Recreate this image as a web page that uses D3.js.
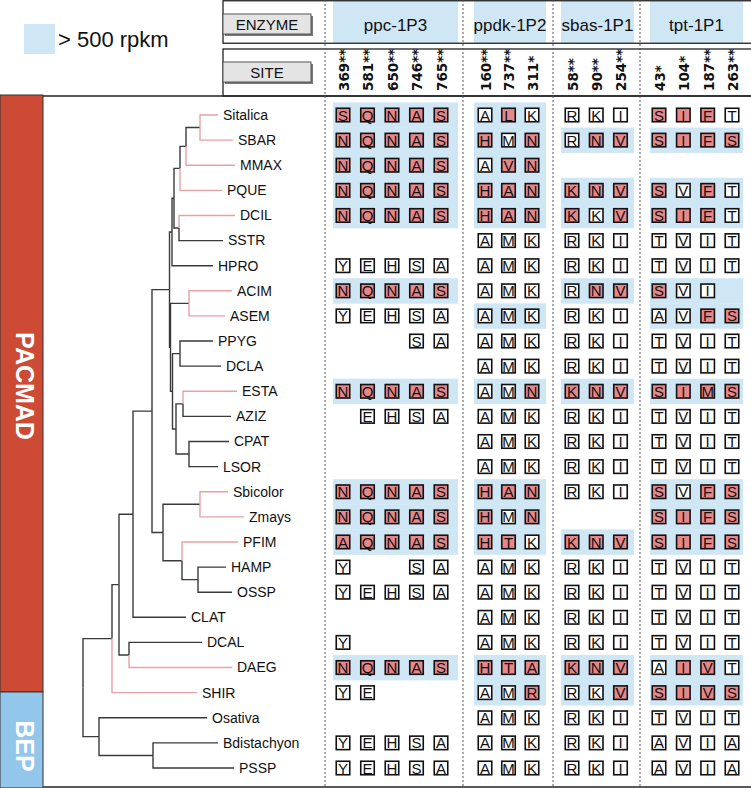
<!DOCTYPE html>
<html><head><meta charset="utf-8">
<script src="https://cdn.jsdelivr.net/npm/d3@7"></script>
<style>body{margin:0;background:#fff}svg{display:block}</style>
</head><body>
<script>
// ---------------- DATA ----------------
const species = ["Sitalica","SBAR","MMAX","PQUE","DCIL","SSTR","HPRO","ACIM","ASEM","PPYG","DCLA","ESTA","AZIZ","CPAT","LSOR","Sbicolor","Zmays","PFIM","HAMP","OSSP","CLAT","DCAL","DAEG","SHIR","Osativa","Bdistachyon","PSSP"];
const c4Branches = ["Sitalica","SBAR","MMAX","PQUE","DCIL","ACIM","ASEM","ESTA","Sbicolor","Zmays","PFIM","DAEG","SHIR"];
// phylogeny (Newick, branch lengths)
const treeNewick = "(((((((((((Sitalica:18,SBAR:33):14,MMAX:49):6,PQUE:42):6,(DCIL:56,SSTR:44):5):2,HPRO:41):2.5,((ACIM:43,ASEM:36):18.5,((PPYG:33,DCLA:41):7.5,((ESTA:54,AZIZ:48):7,(CPAT:40,LSOR:29):13):3.5):2):1):17.5,((Sbicolor:28,Zmays:44):37,(PFIM:56,(HAMP:28,OSSP:34):16):19):11):19,CLAT:53):14,(DCAL:73,DAEG:103):10):7,SHIR:85):29,(Osativa:108,(Bdistachyon:65,PSSP:81):54):16);";
const clades = ["PACMAD","BEP"];
const enzymes = ["ppc-1P3","ppdk-1P2","sbas-1P1","tpt-1P1"];
const ppcSites = ["369**","581**","650**","746**","765**"];
const ppdkSites = ["160**","737**","311*"];
const sbasSites = ["58**","90**","254**"];
const tptSites = ["43*","104*","187**","263**"];
// residues per species (order = species); UPPER = C4-specific (pink), lower = ancestral (white), '-' = missing
const ppcRes = ["SQNAS","NQNAS","NQNAS","NQNAS","NQNAS","-----","yehsa","NQNAS","yehsa","---sa","-----","NQNAS","-ehsa","-----","-----","NQNAS","NQNAS","AQNAS","y--sa","yehsa","-----","y----","NQNAS","ye---","-----","yehsa","yehsa"];
const ppdkRes = ["aLk","HmN","aVN","HAN","HAN","amk","amk","amk","amk","amk","amk","amN","amk","amk","amk","HAN","HmN","HTk","amk","amk","amk","amk","HTA","amR","amk","amk","amk"];
const sbasRes = ["rki","rNV","---","KNV","KkV","rki","rki","rNV","rki","rki","rki","KNV","rki","rki","rki","rki","---","KNV","rki","rki","rki","rki","KNV","rkV","rki","rki","rki"];
const tptRes = ["SIFt","SIFS","----","SvFt","SIFt","tvit","tvit","Svi-","avFS","tvit","tvit","SIMS","tvit","tvit","tvit","SvFS","SIFS","SIFS","tvit","tvit","tvit","tvit","aIVt","SIVS","tvit","avia","avia"];
// expression > 500 rpkm
const ppcHigh = ["Sitalica","SBAR","MMAX","PQUE","DCIL","ACIM","ESTA","Sbicolor","Zmays","PFIM","DAEG"];
const ppdkHigh = ["Sitalica","SBAR","MMAX","PQUE","DCIL","ASEM","ESTA","Sbicolor","Zmays","PFIM","DAEG","SHIR"];
const sbasHigh = ["SBAR","PQUE","DCIL","ACIM","ESTA","PFIM","DAEG","SHIR"];
const tptHigh = ["SBAR","PQUE","DCIL","ACIM","ASEM","ESTA","Sbicolor","Zmays","PFIM","DAEG","SHIR"];
const legendLabel = "> 500 rpkm";

// ---------------- LAYOUT ----------------
const W = 751, H = 788;
const BLUE = "#cfe6f5", PINK = "#e8878a", RED = "#cd4b35", BEPBLUE = "#92c6ea";
const svg = d3.select("body").append("svg").attr("width", W).attr("height", H);

const y = d3.scalePoint().domain(species).range([115, 768]);
const step = y.step();

const enzLayout = [
  {name: enzymes[0], sites: ppcSites, res: ppcRes, high: ppcHigh, band: [333, 458], cols: [343, 441]},
  {name: enzymes[1], sites: ppdkSites, res: ppdkRes, high: ppdkHigh, band: [474, 546], cols: [485, 532]},
  {name: enzymes[2], sites: sbasSites, res: sbasRes, high: sbasHigh, band: [561, 634], cols: [572, 620.5]},
  {name: enzymes[3], sites: tptSites, res: tptRes, high: tptHigh, band: [650, 743], cols: [659, 732]}
];
enzLayout.forEach(e => { e.x = d3.scalePoint().domain(d3.range(e.sites.length)).range(e.cols); });

// ---- legend
svg.append("rect").attr("x", 24).attr("y", 24).attr("width", 31).attr("height", 30).attr("fill", BLUE);
svg.append("text").attr("x", 58).attr("y", 47).attr("font-family", "Liberation Sans, Arial, sans-serif")
  .attr("font-size", 22).attr("fill", "#111").text(legendLabel);

// ---- header boxes
const hdr = svg.append("g");
enzLayout.forEach(e => {
  hdr.append("rect").attr("x", e.band[0]).attr("y", 0).attr("width", e.band[1] - e.band[0]).attr("height", 43).attr("fill", BLUE);
  hdr.append("text").attr("x", (e.band[0] + e.band[1]) / 2).attr("y", 31).attr("text-anchor", "middle")
    .attr("font-family", "Liberation Sans, Arial, sans-serif").attr("font-size", 17).attr("fill", "#111").text(e.name);
});
hdr.append("rect").attr("x", 223).attr("y", 0.75).attr("width", 530).attr("height", 42.5).attr("fill", "none").attr("stroke", "#222").attr("stroke-width", 1.3);
hdr.append("rect").attr("x", 223).attr("y", 49).attr("width", 530).attr("height", 47).attr("fill", "none").attr("stroke", "#222").attr("stroke-width", 1.3);
function button(label, yTop) {
  hdr.append("rect").attr("x", 225).attr("y", yTop + 2).attr("width", 88).attr("height", 20).attr("fill", "#777");
  hdr.append("rect").attr("x", 223).attr("y", yTop).attr("width", 88).attr("height", 20).attr("fill", "#e4e4e4").attr("stroke", "#555").attr("stroke-width", 1);
  hdr.append("text").attr("x", 267).attr("y", yTop + 16).attr("text-anchor", "middle")
    .attr("font-family", "Liberation Sans, Arial, sans-serif").attr("font-size", 15).attr("fill", "#111").text(label);
}
button("ENZYME", 14);
button("SITE", 62);
enzLayout.forEach(e => {
  e.sites.forEach((s, j) => {
    const cx = e.x(j) + 1;
    hdr.append("text").attr("transform", `translate(${cx},91) rotate(-90)`).attr("dy", "0.36em")
      .attr("font-family", "DejaVu Sans, sans-serif").attr("font-weight", "bold").attr("font-size", 13.5)
      .attr("fill", "#111").text(s);
  });
});

// ---- expression bands
const grid = svg.append("g");
enzLayout.forEach(e => {
  e.high.forEach(sp => {
    grid.append("rect").attr("x", e.band[0]).attr("y", y(sp) - step / 2).attr("width", e.band[1] - e.band[0])
      .attr("height", step + 0.3).attr("fill", BLUE);
  });
});

// ---- frame lines & separators
svg.append("line").attr("x1", 43).attr("x2", W).attr("y1", 96).attr("y2", 96).attr("stroke", "#222").attr("stroke-width", 1.5);
svg.append("line").attr("x1", 43).attr("x2", W).attr("y1", 787).attr("y2", 787).attr("stroke", "#222").attr("stroke-width", 1.5);
[325, 463, 553, 640].forEach(x => {
  svg.append("line").attr("x1", x).attr("x2", x).attr("y1", 0).attr("y2", H)
    .attr("stroke", "#555").attr("stroke-width", 1).attr("stroke-dasharray", "2,2");
});

// ---- residue cells
enzLayout.forEach(e => {
  species.forEach((sp, i) => {
    const str = e.res[i];
    [...str].forEach((c, j) => {
      if (c === "-") return;
      const up = c === c.toUpperCase();
      const cx = e.x(j), cy = y(sp);
      grid.append("rect").attr("x", cx - 6.75).attr("y", cy - 6.75).attr("width", 13.5).attr("height", 13.5)
        .attr("fill", up ? PINK : "#fff").attr("stroke", "#111").attr("stroke-width", 1.6);
      grid.append("text").attr("x", cx).attr("y", cy).attr("dy", "0.37em").attr("text-anchor", "middle")
        .attr("font-family", "Liberation Sans, Arial, sans-serif").attr("font-size", 15).attr("fill", "#111")
        .text(c.toUpperCase());
    });
  });
});

// ---- clade bars
svg.append("rect").attr("x", 0).attr("y", 95).attr("width", 43).attr("height", 597).attr("fill", RED).attr("stroke", "#333").attr("stroke-width", 1);
svg.append("rect").attr("x", 0).attr("y", 692).attr("width", 43).attr("height", 96).attr("fill", BEPBLUE).attr("stroke", "#333").attr("stroke-width", 1);
[[clades[0], 386], [clades[1], 746]].forEach(([t, cy]) => {
  svg.append("text").attr("transform", `translate(16,${cy}) rotate(90)`).attr("text-anchor", "middle")
    .attr("font-family", "Liberation Sans, Arial, sans-serif").attr("font-weight", "bold").attr("font-size", 25)
    .attr("fill", "#fff").text(t);
});

// ---- tree
function parseNewick(s) {
  let i = 0;
  function node() {
    const n = {};
    if (s[i] === "(") {
      i++; n.children = [];
      n.children.push(node());
      while (s[i] === ",") { i++; n.children.push(node()); }
      i++;
    }
    let name = "";
    while (i < s.length && !",():;".includes(s[i])) name += s[i++];
    n.name = name;
    if (s[i] === ":") {
      i++; let num = "";
      while (i < s.length && !",();".includes(s[i])) num += s[i++];
      n.length = +num;
    } else n.length = 0;
    return n;
  }
  return node();
}
const root = d3.hierarchy(parseNewick(treeNewick));
root.each(d => { d.dist = d.parent ? d.parent.dist + d.data.length : 0; });
root.eachAfter(d => {
  d.yy = d.children ? (d.children[0].yy + d.children[d.children.length - 1].yy) / 2 : y(d.data.name);
});
const maxDist = d3.max(root.leaves(), d => d.dist);
const x = d3.scaleLinear().domain([0, maxDist]).range([83, 244]);
const tg = svg.append("g").attr("fill", "none");
root.descendants().filter(d => d.parent).forEach(d => {
  const pink = !d.children && c4Branches.includes(d.data.name);
  tg.append("path")
    .attr("d", `M${x(d.parent.dist)},${d.parent.yy}V${d.yy}H${x(d.dist)}`)
    .attr("stroke", pink ? "#e9a0a6" : "#3a3a3a").attr("stroke-width", 1.4);
});
root.leaves().forEach(d => {
  svg.append("text").attr("x", x(d.dist) + 5).attr("y", d.yy).attr("dy", "0.35em")
    .attr("font-family", "Liberation Sans, Arial, sans-serif").attr("font-size", 14).attr("fill", "#111")
    .text(d.data.name);
});
</script>
</body></html>
